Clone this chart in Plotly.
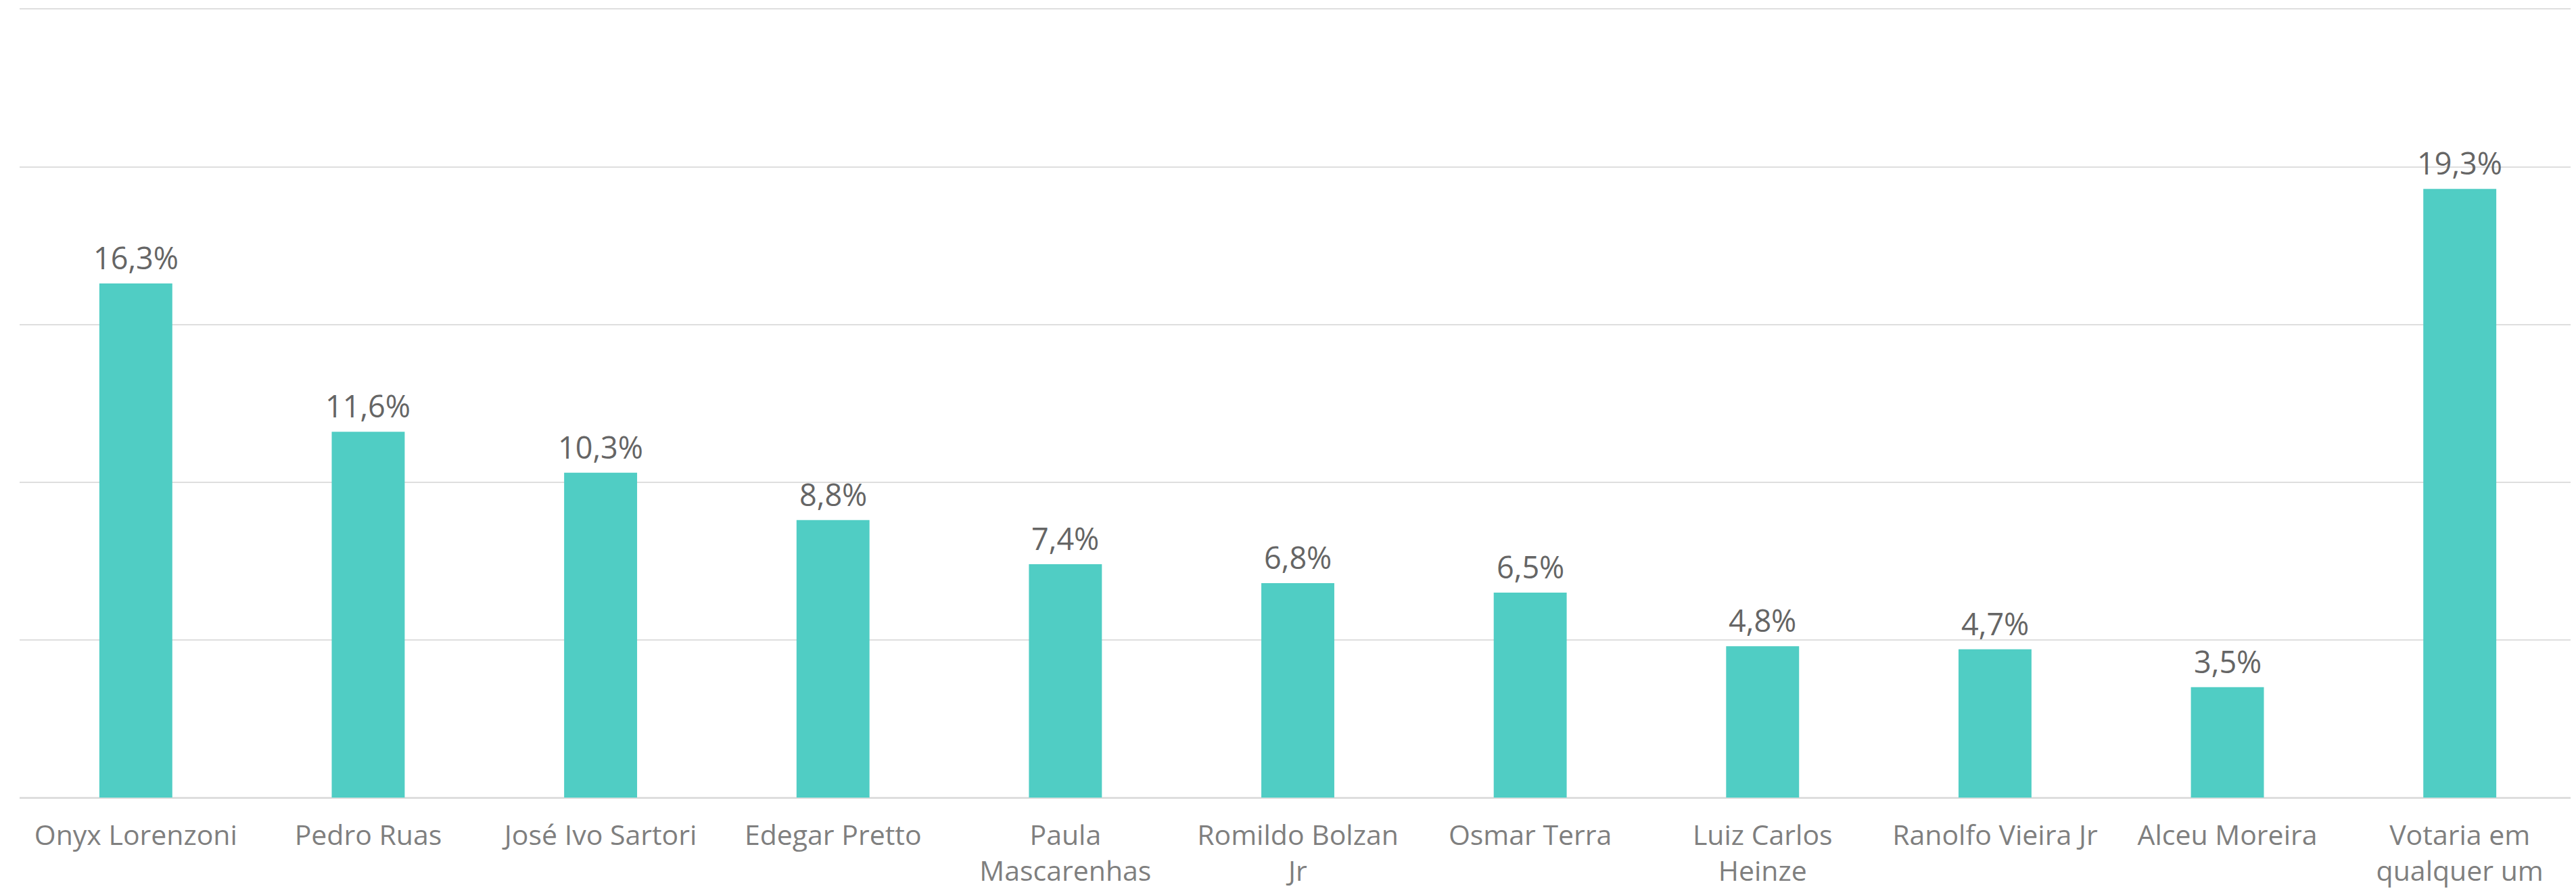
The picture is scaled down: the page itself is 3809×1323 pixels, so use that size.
import plotly.graph_objects as go

# intenção de voto (%)
candidatos = ["Onyx Lorenzoni", "Pedro Ruas", "José Ivo Sartori", "Edegar Pretto",
              "Paula<br>Mascarenhas", "Romildo Bolzan<br>Jr", "Osmar Terra",
              "Luiz Carlos<br>Heinze", "Ranolfo Vieira Jr", "Alceu Moreira",
              "Votaria em<br>qualquer um"]
percentuais = [16.3, 11.6, 10.3, 8.8, 7.4, 6.8, 6.5, 4.8, 4.7, 3.5, 19.3]

rotulos = [f"{v:.1f}".replace(".", ",") + "%" for v in percentuais]

fig = go.Figure()
fig.add_trace(go.Bar(
    x=candidatos,
    y=percentuais,
    marker=dict(color="#50CDC4", line=dict(width=0)),
    hoverinfo="skip",
))

# rótulos de dados acima das barras
for c, v, r in zip(candidatos, percentuais, rotulos):
    fig.add_annotation(
        x=c, y=v, text=r,
        showarrow=False,
        yanchor="bottom",
        yshift=6,
        font=dict(family="Open Sans", size=45, color="#656565"),
    )

# a página tem 8px de margem no body, por isso o tamanho é reduzido
fig.update_layout(
    width=3801,
    height=1315,
    margin=dict(l=21, r=0, t=4, b=144),
    plot_bgcolor="white",
    paper_bgcolor="white",
    bargap=0.686,
    showlegend=False,
    font=dict(family="Open Sans", size=41, color="#7f7f7f"),
)
fig.update_xaxes(
    showgrid=False,
    showline=False,
    ticks="",
    automargin=False,
    tickfont=dict(family="Open Sans", size=41, color="#7f7f7f"),
    ticklabelstandoff=28,
)
fig.update_yaxes(
    range=[0, 25.03],
    dtick=5,
    showgrid=True,
    gridcolor="#dedede",
    gridwidth=2,
    zeroline=True,
    zerolinecolor="#dedede",
    zerolinewidth=3,
    showticklabels=False,
    ticks="",
    automargin=False,
)

fig.write_html("out.html")
